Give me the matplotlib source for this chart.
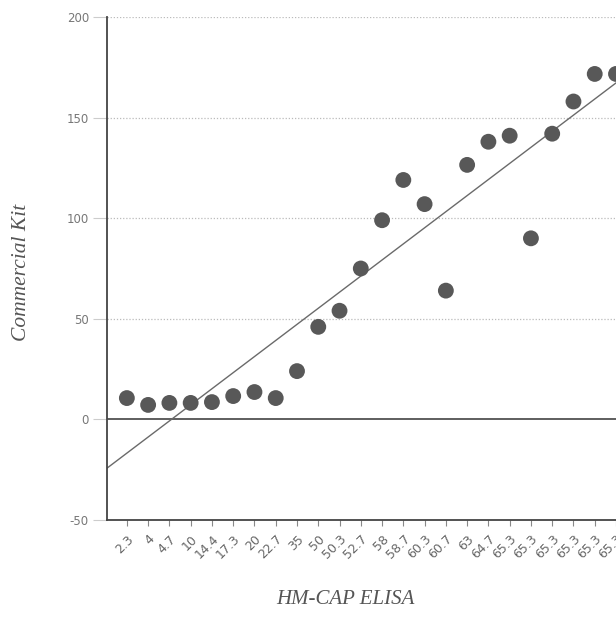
import matplotlib
matplotlib.use("Agg")
import matplotlib.pyplot as plt
import numpy as np

categories = ["2.3", "4", "4.7", "10", "14.4", "17.3", "20", "22.7", "35", "50",
              "50.3", "52.7", "58", "58.7", "60.3", "60.7", "63", "64.7", "65.3",
              "65.3", "65.3", "65.3", "65.3", "65.3"]
commercial_kit = [10.6, 7.2, 8.2, 8.2, 8.6, 11.6, 13.6, 10.6, 24, 46,
                  54, 75, 99, 119, 107, 64, 126.5, 138, 141, 90,
                  142, 158, 171.7, 171.7]
y_ticks = [-50, 0, 50, 100, 150, 200]

fig = plt.figure(figsize=(6.16, 6.21), dpi=100)
ax = fig.add_axes([107/616, 1-520/621, 1-107/616, (520-17)/621])

idx = np.arange(1, len(categories) + 1)
vals = np.array(commercial_kit)

# grid lines
for yv in [50, 100, 150, 200]:
    ax.axhline(yv, color="#bbbbbb", lw=0.9, ls=(0, (1, 1.5)), zorder=0)
ax.axhline(0, color="#333333", lw=1.1, zorder=1)

# trend line (linear fit over category index)
m, b = np.polyfit(idx, vals, 1)
xl = np.array([0.0, 25.0])
ax.plot(xl, m*xl + b, color="#6a6a6a", lw=1.0, zorder=2)

ax.scatter(idx, vals, s=130, color="#585858", edgecolors="none", zorder=3)

ax.set_xlim(0.066, 23.84)
ax.set_ylim(-50, 200)
ax.set_yticks(y_ticks)
ax.set_yticklabels([str(v) for v in y_ticks], color="#777777", fontsize=8.5,
                   family="DejaVu Sans")
ax.tick_params(axis="y", length=10, width=0.8, color="#cccccc", pad=3)

ax.set_xticks(idx)
ax.set_xticklabels(categories, rotation=45, ha="right", rotation_mode="anchor",
                   color="#666666", fontsize=9, family="DejaVu Sans")
ax.tick_params(axis="x", length=4, width=0.8, color="#888888", pad=5)

for s in ["top", "right"]:
    ax.spines[s].set_visible(False)
ax.spines["left"].set_color("#444444")
ax.spines["left"].set_linewidth(1.3)
ax.spines["bottom"].set_color("#444444")
ax.spines["bottom"].set_linewidth(1.3)

fig.text(22/616, 1-272/621, "Commercial Kit", rotation=90, ha="center", va="center",
         family="Liberation Serif", style="italic", fontsize=15.5, color="#555555")
fig.text(345/616, 1-600/621, "HM-CAP ELISA", ha="center", va="center",
         family="Liberation Serif", style="italic", fontsize=15, color="#555555")

fig.savefig("out.png", dpi=100)
